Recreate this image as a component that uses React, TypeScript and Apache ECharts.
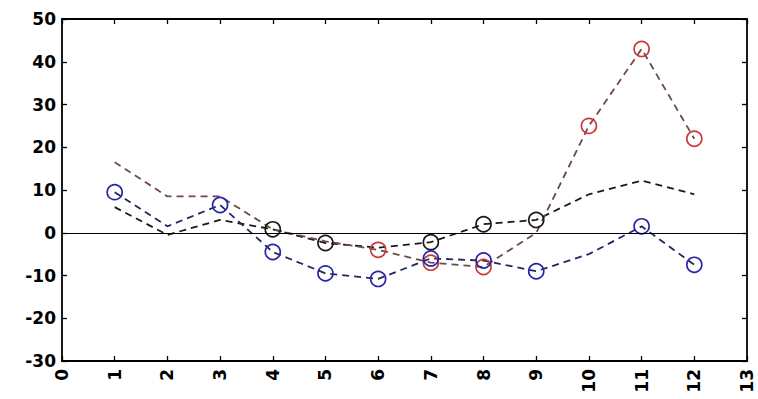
import React, { useEffect, useRef } from "react";
import * as echarts from "echarts";

const months = [1, 2, 3, 4, 5, 6, 7, 8, 9, 10, 11, 12];
const redValues = [16.5, 8.5, 8.5, 0.8, -2, -4, -7, -8, 0, 25, 43, 22];
const redMarked = [false, false, false, false, false, true, true, true, false, true, true, true];
const blueValues = [9.5, 1.5, 6.5, -4.5, -9.5, -10.8, -6, -6.5, -9, -5, 1.5, -7.5];
const blueMarked = [true, false, true, true, true, true, true, true, true, false, true, true];
const blackValues = [6, -0.5, 3, 0.8, -2.4, -3.5, -2.2, 2, 3, 9, 12.2, 9];
const blackMarked = [false, false, false, true, true, false, true, true, true, false, false, false];
const xTicks = [0, 13];
const yTicks = [-30, 50];

function buildData(values: number[], marked: boolean[], markColor: string) {
  return values.map((v, i) =>
    marked[i]
      ? {
          value: [months[i], v],
          symbol: "circle",
          symbolSize: 15,
          itemStyle: { color: "rgba(0,0,0,0)", borderColor: markColor, borderWidth: 1.7 },
        }
      : { value: [months[i], v], symbol: "none" }
  );
}

export default function App() {
  const ref = useRef<HTMLDivElement>(null);
  useEffect(() => {
    document.body.style.margin = "0";
    const chart = echarts.init(ref.current!, null, { renderer: "svg" });
    const labelFont = {
      fontFamily: "DejaVu Sans",
      fontWeight: "bold" as const,
      fontSize: 17,
      color: "#000",
    };
    const axisLine = { show: true, onZero: false, lineStyle: { color: "#000", width: 1.8 } };
    const tick = { show: true, inside: true, length: 5, lineStyle: { color: "#000", width: 1.3 } };
    const dash = [7, 5];
    chart.setOption({
      animation: false,
      backgroundColor: "#fff",
      grid: { left: 62, right: 11, top: 19, bottom: 38, containLabel: false },
      xAxis: [
        {
          type: "value",
          min: xTicks[0],
          max: xTicks[1],
          interval: 1,
          position: "bottom",
          axisLine,
          axisTick: tick,
          splitLine: { show: false },
          axisLabel: { ...labelFont, rotate: 90, margin: 8 },
        },
        {
          type: "value",
          min: xTicks[0],
          max: xTicks[1],
          interval: 1,
          position: "top",
          axisLine,
          axisTick: tick,
          splitLine: { show: false },
          axisLabel: { show: false },
        },
      ],
      yAxis: [
        {
          type: "value",
          min: yTicks[0],
          max: yTicks[1],
          interval: 10,
          position: "left",
          axisLine,
          axisTick: tick,
          splitLine: { show: false },
          axisLabel: { ...labelFont, margin: 6 },
        },
        {
          type: "value",
          min: yTicks[0],
          max: yTicks[1],
          interval: 10,
          position: "right",
          axisLine,
          axisTick: tick,
          splitLine: { show: false },
          axisLabel: { show: false },
        },
      ],
      series: [
        {
          type: "line",
          name: "black",
          xAxisIndex: 0,
          yAxisIndex: 0,
          data: buildData(blackValues, blackMarked, "#1a1a1a"),
          lineStyle: { color: "#1a1a1a", width: 1.8, type: dash },
          itemStyle: { color: "#1a1a1a" },
          markLine: {
            silent: true,
            symbol: ["none", "none"],
            label: { show: false },
            lineStyle: { color: "#000", type: "solid", width: 1.2 },
            data: [{ yAxis: 0 }],
          },
        },
        {
          type: "line",
          name: "red",
          xAxisIndex: 0,
          yAxisIndex: 0,
          data: buildData(redValues, redMarked, "#c83a3a"),
          lineStyle: { color: "#6e4a46", width: 1.8, type: dash },
          itemStyle: { color: "#c83a3a" },
        },
        {
          type: "line",
          name: "blue",
          xAxisIndex: 0,
          yAxisIndex: 0,
          data: buildData(blueValues, blueMarked, "#2626a8"),
          lineStyle: { color: "#26265e", width: 1.8, type: dash },
          itemStyle: { color: "#2626a8" },
        },
      ],
    });
    return () => chart.dispose();
  }, []);
  return <div ref={ref} style={{ width: 758, height: 399 }} />;
}
